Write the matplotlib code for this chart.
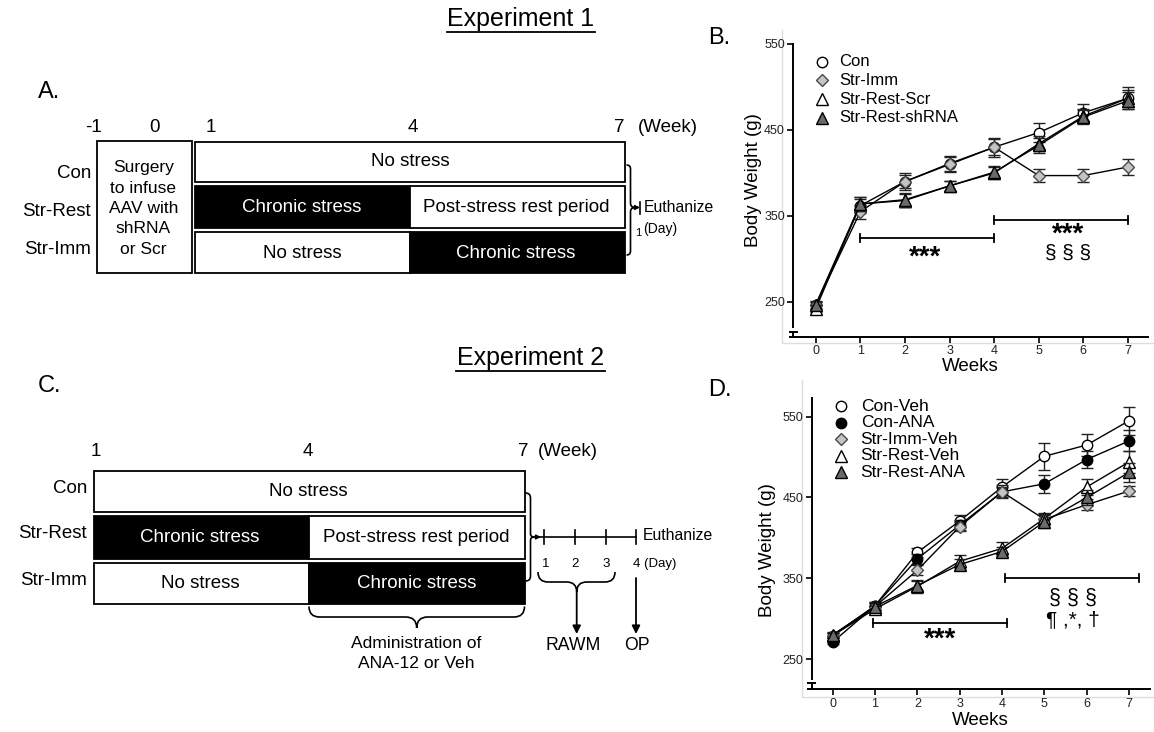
import numpy as np
import matplotlib.pyplot as plt
from matplotlib.path import Path
from matplotlib.patches import PathPatch, Rectangle

plt.rcParams['font.family'] = ['Liberation Sans', 'DejaVu Sans']

W, H = 1154, 732  # figure size in px (dpi 100)

# ------------------ DATA ------------------
weeks = [0, 1, 2, 3, 4, 5, 6, 7]

# Experiment 1 (panel B), body weight (g)
exp1_names = ['Con', 'Str-Imm', 'Str-Rest-Scr', 'Str-Rest-shRNA']
exp1_con = [246, 362, 390, 410, 430, 447, 470, 487]
exp1_con_err = [4, 8, 10, 9, 11, 11, 10, 13]
exp1_imm = [246, 355, 390, 411, 430, 397, 397, 407]
exp1_imm_err = [4, 8, 8, 9, 9, 8, 8, 9]
exp1_scr = [242, 364, 368, 385, 400, 434, 466, 487]
exp1_scr_err = [4, 8, 8, 6, 7, 9, 8, 10]
exp1_sh = [247, 364, 369, 385, 401, 432, 465, 484]
exp1_sh_err = [4, 8, 8, 6, 7, 9, 8, 10]

# Experiment 2 (panel D), body weight (g)
exp2_names = ['Con-Veh', 'Con-ANA', 'Str-Imm-Veh', 'Str-Rest-Veh', 'Str-Rest-ANA']
exp2_conveh = [279, 316, 382, 421, 463, 501, 515, 545]
exp2_conveh_err = [3, 5, 6, 7, 10, 17, 14, 17]
exp2_conana = [271, 316, 374, 416, 457, 467, 497, 520]
exp2_conana_err = [3, 5, 6, 6, 8, 11, 10, 13]
exp2_immveh = [279, 315, 360, 414, 457, 423, 441, 458]
exp2_immveh_err = [3, 4, 6, 6, 6, 7, 7, 6]
exp2_restveh = [279, 312, 340, 371, 387, 424, 463, 494]
exp2_restveh_err = [3, 4, 8, 8, 8, 7, 10, 14]
exp2_restana = [280, 315, 341, 367, 383, 420, 450, 481]
exp2_restana_err = [3, 4, 6, 7, 6, 8, 9, 12]

yticks = [250, 350, 450, 550]

# marker styles
st_open_circle = dict(marker='o', mfc='white', mec='black', ms=7.5)
st_black_circle = dict(marker='o', mfc='black', mec='black', ms=7.5)
st_diamond = dict(marker='D', mfc='#c4c4c4', mec='#4a4a4a', ms=6)
st_open_tri = dict(marker='^', mfc='white', mec='black', ms=8)
st_gray_tri = dict(marker='^', mfc='#6a6a6a', mec='black', ms=8)

fig = plt.figure(figsize=(W / 100, H / 100), dpi=100)

# ------------------ overlay (pixel coords) ------------------
ov = fig.add_axes([0, 0, 1, 1])
ov.set_xlim(0, W)
ov.set_ylim(H, 0)
ov.axis('off')


def box(x0, x1, y0, y1, fill='white'):
    ov.add_patch(Rectangle((x0, y0), x1 - x0, y1 - y0, facecolor=fill,
                           edgecolor='black', lw=1.3))


def txt(x, y, s, size, color='black', ha='center', **kw):
    ov.text(x, y, s, fontsize=size, color=color, ha=ha, va='center', **kw)


def hbrace(x0, x1, y0, ym, yt, xt):
    r1, r2 = ym - y0, yt - ym
    v = [(x0, y0), (x0, ym), (x0 + r1, ym), (xt - r2, ym), (xt, ym), (xt, yt),
         (xt, ym), (xt + r2, ym), (x1 - r1, ym), (x1, ym), (x1, y0)]
    c = [Path.MOVETO, Path.CURVE3, Path.CURVE3, Path.LINETO, Path.CURVE3, Path.CURVE3,
         Path.CURVE3, Path.CURVE3, Path.LINETO, Path.CURVE3, Path.CURVE3]
    ov.add_patch(PathPatch(Path(v, c), fill=False, lw=1.2, ec='black'))


def vbrace(x0, xm, xt, y0, y1, yt):
    r1, r2 = xm - x0, xt - xm
    v = [(x0, y0), (xm, y0), (xm, y0 + r1), (xm, yt - r2), (xm, yt), (xt, yt),
         (xm, yt), (xm, yt + r2), (xm, y1 - r1), (xm, y1), (x0, y1)]
    c = [Path.MOVETO, Path.CURVE3, Path.CURVE3, Path.LINETO, Path.CURVE3, Path.CURVE3,
         Path.CURVE3, Path.CURVE3, Path.LINETO, Path.CURVE3, Path.CURVE3]
    ov.add_patch(PathPatch(Path(v, c), fill=False, lw=1.2, ec='black'))


def arrow(x0, y0, x1, y1, ms=12):
    ov.annotate('', xy=(x1, y1), xytext=(x0, y0),
                arrowprops=dict(arrowstyle='-|>', color='black', lw=1.3,
                                mutation_scale=ms, shrinkA=0, shrinkB=0))


# ---- Panel A ----
txt(38, 92, 'A.', 17, ha='left')
txt(521, 19, 'Experiment 1', 18)
ov.plot([447, 595], [32, 32], color='black', lw=1.3)
for s, x in zip(['-1', '0', '1', '4', '7', '(Week)'], [94, 154, 211, 413, 619, 668]):
    txt(x, 127, s, 13.5)
box(97, 192, 141, 273)
txt(143.5, 208.5, 'Surgery\nto infuse\nAAV with\nshRNA\nor Scr', 12.5, linespacing=1.45)
for s, y in zip(['Con', 'Str-Rest', 'Str-Imm'], [174, 211, 249]):
    txt(91, y, s, 13.5, ha='right')
box(195, 625, 141.5, 182)
box(195, 410, 186, 228, 'black')
box(410, 625, 186, 228)
box(195, 410, 232, 273)
box(410, 625, 232, 273, 'black')
txt(410, 162, 'No stress', 13.5)
txt(302, 207, 'Chronic stress', 13.5, color='white')
txt(516, 207, 'Post-stress rest period', 13.5)
txt(302, 254, 'No stress', 13.5)
txt(516, 254, 'Chronic stress', 13.5, color='white')
vbrace(626.5, 630.5, 635, 165, 255, 207.5)
arrow(634, 207.5, 640, 207.5, ms=6)
ov.plot([640, 640], [201.5, 214], color='black', lw=1.2)
txt(643.5, 207.5, 'Euthanize', 11.3, ha='left')
txt(638.5, 233, '1', 8)
txt(643, 229.5, '(Day)', 10, ha='left')

# ---- Panel C ----
txt(38, 386, 'C.', 17, ha='left')
txt(530.5, 358, 'Experiment 2', 18)
ov.plot([456, 605], [371, 371], color='black', lw=1.3)
for s, x in zip(['1', '4', '7', '(Week)'], [96, 308, 523, 568]):
    txt(x, 451, s, 13.5)
for s, y in zip(['Con', 'Str-Rest', 'Str-Imm'], [488.5, 534, 580.5]):
    txt(87, y, s, 13.5, ha='right')
box(94, 524.5, 471, 512)
box(94, 309, 516, 558.5, 'black')
box(309, 524.5, 516, 558.5)
box(94, 309, 562.5, 604)
box(309, 524.5, 562.5, 604, 'black')
txt(308, 492, 'No stress', 13.5)
txt(200, 538, 'Chronic stress', 13.5, color='white')
txt(416.5, 538, 'Post-stress rest period', 13.5)
txt(200, 583.5, 'No stress', 13.5)
txt(416.5, 583.5, 'Chronic stress', 13.5, color='white')
vbrace(525.5, 530.5, 534, 493, 581, 537)
arrow(533, 537, 541, 537, ms=6)
ov.plot([540, 636], [537, 537], color='black', lw=1.2)
for x in [544, 574.5, 606, 636]:
    ov.plot([x, x], [529.5, 544], color='black', lw=1.2)
txt(642.5, 535, 'Euthanize', 11.3, ha='left')
for s, x in zip(['1', '2', '3'], [546, 575, 606]):
    txt(x, 564, s, 9.5)
txt(633, 564, '4 (Day)', 9.5, ha='left')
hbrace(538, 615, 572, 582, 592, 576.7)
arrow(576.7, 592, 576.7, 634)
arrow(636, 578, 636, 634)
txt(572.7, 646, 'RAWM', 12.7)
txt(636.7, 646, 'OP', 12.7)
hbrace(309, 524.5, 606.5, 617, 628, 416.7)
txt(416, 643, 'Administration of', 12.6)
txt(416, 664, 'ANA-12 or Veh', 12.6)

# ---- Panel letters for charts and gray frames ----
txt(708, 38, 'B.', 17, ha='left')
txt(708, 390, 'D.', 17, ha='left')
ov.plot([782, 782, W], [30, 343, 343], color='#dddddd', lw=1)
ov.plot([802, 802, W], [380, 697, 697], color='#dddddd', lw=1)


# ------------------ charts ------------------
def make_axes(px_left, px_right, px_top, px_bottom):
    return fig.add_axes([px_left / W, 1 - px_bottom / H,
                         (px_right - px_left) / W, (px_bottom - px_top) / H])


def style_axes(ax, xlim, ylim, spine_lo, cap_y, ylab_xy, xlab_xy):
    ax.set_xlim(*xlim)
    ax.set_ylim(*ylim)
    ax.patch.set_alpha(0)
    for s in ['top', 'right']:
        ax.spines[s].set_visible(False)
    ax.spines['left'].set_position(('data', -0.5))
    ax.spines['left'].set_bounds(spine_lo, ylim[1])
    ax.spines['left'].set_linewidth(1.4)
    ax.spines['bottom'].set_linewidth(1.4)
    ax.set_xticks(weeks)
    ax.set_yticks(yticks)
    ax.tick_params(direction='out', length=4, width=1.2, labelsize=9,
                   pad=2, labelcolor='#222222')
    # axis break mark at bottom of y axis
    ax.plot([-0.58, -0.42], [cap_y, cap_y], color='black', lw=1.4, clip_on=False)
    ax.plot([-0.5, -0.5], [ylim[0], cap_y], color='black', lw=1.4, clip_on=False)
    ax.set_ylabel('Body Weight (g)', fontsize=13.5)
    ax.set_xlabel('Weeks', fontsize=13.5)
    ax.yaxis.set_label_coords(*ylab_xy)
    ax.xaxis.set_label_coords(*xlab_xy)


def draw_series(ax, ys, errs, st, z):
    ax.errorbar(weeks, ys, yerr=errs, color='black', lw=1.0, ecolor='#222222',
                elinewidth=1.0, capsize=4.5, capthick=1.0, zorder=z,
                clip_on=False, **st)


def bracket(ax, x0, x1, y, h):
    ax.plot([x0, x1], [y, y], color='black', lw=1.3)
    ax.plot([x0, x0], [y - h, y + h], color='black', lw=1.3)
    ax.plot([x1, x1], [y - h, y + h], color='black', lw=1.3)


def legend(ax, names, styles, x0, xt, y0, dy, size):
    for i, (n, st) in enumerate(zip(names, styles)):
        ax.plot([x0], [y0 - i * dy], transform=ax.transAxes, clip_on=False, ls='none', **st)
        ax.text(xt, y0 - i * dy, n, transform=ax.transAxes, fontsize=size, va='center')


# ---- Panel B ----
axB = make_axes(790, 1148, 44, 337)
style_axes(axB, (-0.576, 7.45), (209.3, 550), 221, 215.5, (-0.078, 0.536), (0.503, -0.072))
series_B = [(exp1_con, exp1_con_err, st_open_circle),
            (exp1_imm, exp1_imm_err, st_diamond),
            (exp1_scr, exp1_scr_err, st_open_tri),
            (exp1_sh, exp1_sh_err, st_gray_tri)]
for k, (ys, es, st) in enumerate(series_B):
    draw_series(axB, ys, es, st, 3 + k)
bracket(axB, 1, 4, 324, 4.5)
bracket(axB, 4, 7, 345, 4.5)
axB.text(2.46, 294, '***', fontsize=20, fontweight='bold', ha='center', va='baseline')
axB.text(5.66, 320, '***', fontsize=20, fontweight='bold', ha='center', va='baseline')
axB.text(5.66, 300, '§ § §', fontsize=15, ha='center', va='baseline')
legend(axB, exp1_names, [s[2] for s in series_B], 0.0885, 0.138, 0.9396, 0.064, 12)

# ---- Panel D ----
axD = make_axes(808, 1150, 398, 689.3)
style_axes(axD, (-0.584, 7.496), (212.5, 573.2), 224.9, 219.9, (-0.094, 0.478), (0.503, -0.078))
series_D = [(exp2_conveh, exp2_conveh_err, st_open_circle),
            (exp2_conana, exp2_conana_err, st_black_circle),
            (exp2_immveh, exp2_immveh_err, st_diamond),
            (exp2_restveh, exp2_restveh_err, st_open_tri),
            (exp2_restana, exp2_restana_err, st_gray_tri)]
for k, (ys, es, st) in enumerate(series_D):
    draw_series(axD, ys, es, st, 3 + k)
bracket(axD, 0.96, 4.12, 294.5, 5)
bracket(axD, 4.08, 7.24, 350, 5)
axD.text(2.53, 265, '***', fontsize=20, fontweight='bold', ha='center', va='baseline')
axD.text(5.68, 319, '§ § §', fontsize=15.5, ha='center', va='baseline')
axD.text(5.68, 292, '¶ ,*, †', fontsize=15, ha='center', va='baseline')
legend(axD, exp2_names, [s[2] for s in series_D], 0.0956, 0.154, 0.9725, 0.0569, 12.5)

fig.savefig('out.png', dpi=100)
